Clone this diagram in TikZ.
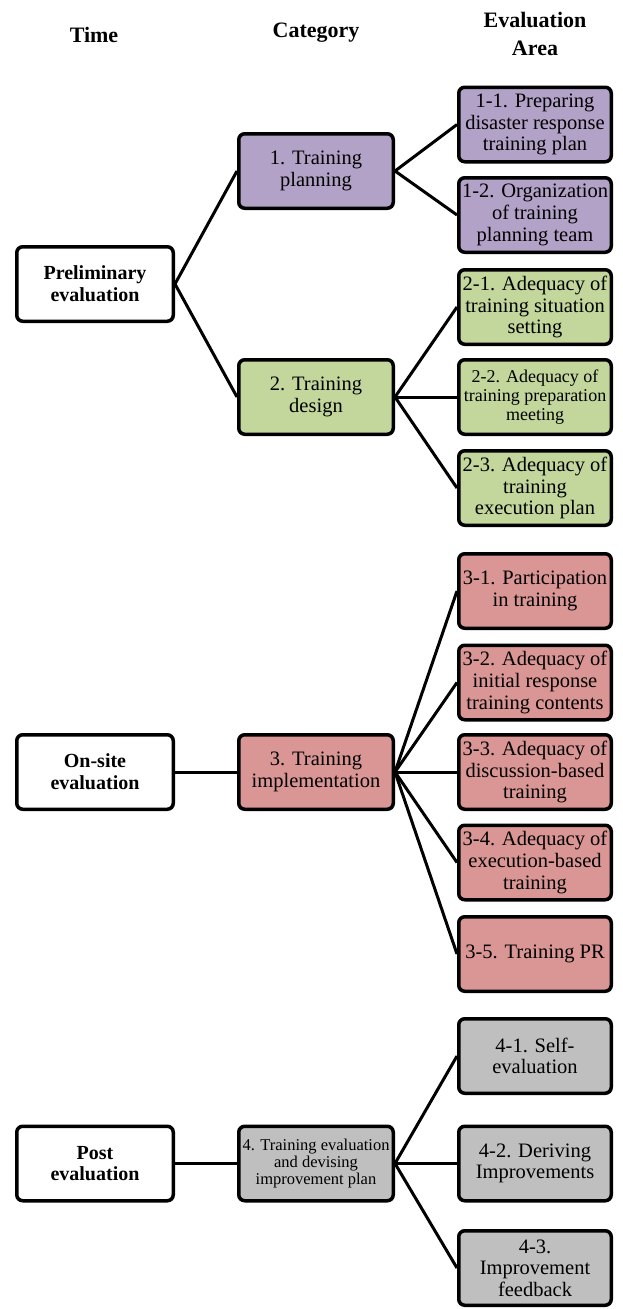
\documentclass[tikz,border=0pt]{standalone}
\usepackage{fontspec}
\setmainfont{Liberation Serif}

\definecolor{planpurple}{RGB}{179,162,199}
\definecolor{designgreen}{RGB}{195,214,155}
\definecolor{implred}{RGB}{217,150,148}
\definecolor{postgray}{RGB}{191,191,191}

\tikzset{
    box/.style={draw, line width=3.5pt, rounded corners=6pt, align=center,
        inner sep=1pt, minimum height=74.5pt, font=\fontsize{20.5}{21.7}\selectfont},
    timebox/.style={box, fill=white, minimum width=156.5pt,
        font=\fontsize{20}{21.7}\selectfont\bfseries},
    catbox/.style={box, minimum width=154.5pt},
    areabox/.style={box, minimum width=152.5pt},
    head/.style={align=center, font=\fontsize{22}{28}\selectfont\bfseries},
    link/.style={line width=3pt},
}

\begin{document}
\begin{tikzpicture}[x=1pt, y=-1pt]
    \useasboundingbox (0,0) rectangle (622,1309);

    %%%%%%%%%%%%%%%%%%%%%%%%%%%%%%%%%%%%
    % column headings
    %%%%%%%%%%%%%%%%%%%%%%%%%%%%%%%%%%%%
    \node[head] (htime) at (94,35) {Time};
    \node[head] (hcat) at (316,33) {Category};
    \node[head] (harea) at (535,34) {Evaluation\\Area};

    %%%%%%%%%%%%%%%%%%%%%%%%%%%%%%%%%%%%
    % time
    %%%%%%%%%%%%%%%%%%%%%%%%%%%%%%%%%%%%
    \node[timebox] (prelim) at (95,284) {Preliminary\\evaluation};
    \node[timebox] (onsite) at (95,772) {On-site\\evaluation};
    \node[timebox] (post) at (95,1163.5) {Post\\evaluation};

    %%%%%%%%%%%%%%%%%%%%%%%%%%%%%%%%%%%%
    % category
    %%%%%%%%%%%%%%%%%%%%%%%%%%%%%%%%%%%%
    \node[catbox, fill=planpurple] (cat1) at (316,171) {1. Training\\planning};
    \node[catbox, fill=designgreen] (cat2) at (316,397) {2. Training\\design};
    \node[catbox, fill=implred] (cat3) at (316,772) {3. Training\\implementation};
    \node[catbox, fill=postgray, font=\fontsize{16.5}{16.7}\selectfont] (cat4) at (316,1163.5)
        {4. Training evaluation\\and devising\\improvement plan};

    %%%%%%%%%%%%%%%%%%%%%%%%%%%%%%%%%%%%
    % evaluation area
    %%%%%%%%%%%%%%%%%%%%%%%%%%%%%%%%%%%%
    \node[areabox, fill=planpurple] (a11) at (535,124.5) {1-1. Preparing\\disaster response\\training plan};
    \node[areabox, fill=planpurple] (a12) at (535,215) {1-2. Organization\\of training\\planning team};

    \node[areabox, fill=designgreen] (a21) at (535,307) {2-1. Adequacy of\\training situation\\setting};
    \node[areabox, fill=designgreen, font=\fontsize{18}{19}\selectfont] (a22) at (535,397)
        {2-2. Adequacy of\\training preparation\\meeting};
    \node[areabox, fill=designgreen] (a23) at (535,488) {2-3. Adequacy of\\training\\execution plan};

    \node[areabox, fill=implred] (a31) at (535,591) {3-1. Participation\\in training};
    \node[areabox, fill=implred] (a32) at (535,682.5) {3-2. Adequacy of\\initial response\\training contents};
    \node[areabox, fill=implred] (a33) at (535,772) {3-3. Adequacy of\\discussion-based\\training};
    \node[areabox, fill=implred] (a34) at (535,862.5) {3-4. Adequacy of\\execution-based\\training};
    \node[areabox, fill=implred] (a35) at (535,954) {3-5. Training PR};

    \node[areabox, fill=postgray] (a41) at (535,1056) {4-1. Self-\\evaluation};
    \node[areabox, fill=postgray] (a42) at (535,1163.5) {4-2. Deriving\\Improvements};
    \node[areabox, fill=postgray] (a43) at (535,1268) {4-3.\\Improvement\\feedback};

    %%%%%%%%%%%%%%%%%%%%%%%%%%%%%%%%%%%%
    % links
    %%%%%%%%%%%%%%%%%%%%%%%%%%%%%%%%%%%%
    \draw[link] (prelim.east) -- (cat1.west);
    \draw[link] (prelim.east) -- (cat2.west);
    \draw[link] (onsite.east) -- (cat3.west);
    \draw[link] (post.east) -- (cat4.west);

    \foreach \a in {a11,a12}
        \draw[link] (cat1.east) -- (\a.west);
    \foreach \a in {a21,a22,a23}
        \draw[link] (cat2.east) -- (\a.west);
    \foreach \a in {a31,a32,a33,a34,a35}
        \draw[link] (cat3.east) -- (\a.west);
    \foreach \a in {a41,a42,a43}
        \draw[link] (cat4.east) -- (\a.west);

\end{tikzpicture}
\end{document}
